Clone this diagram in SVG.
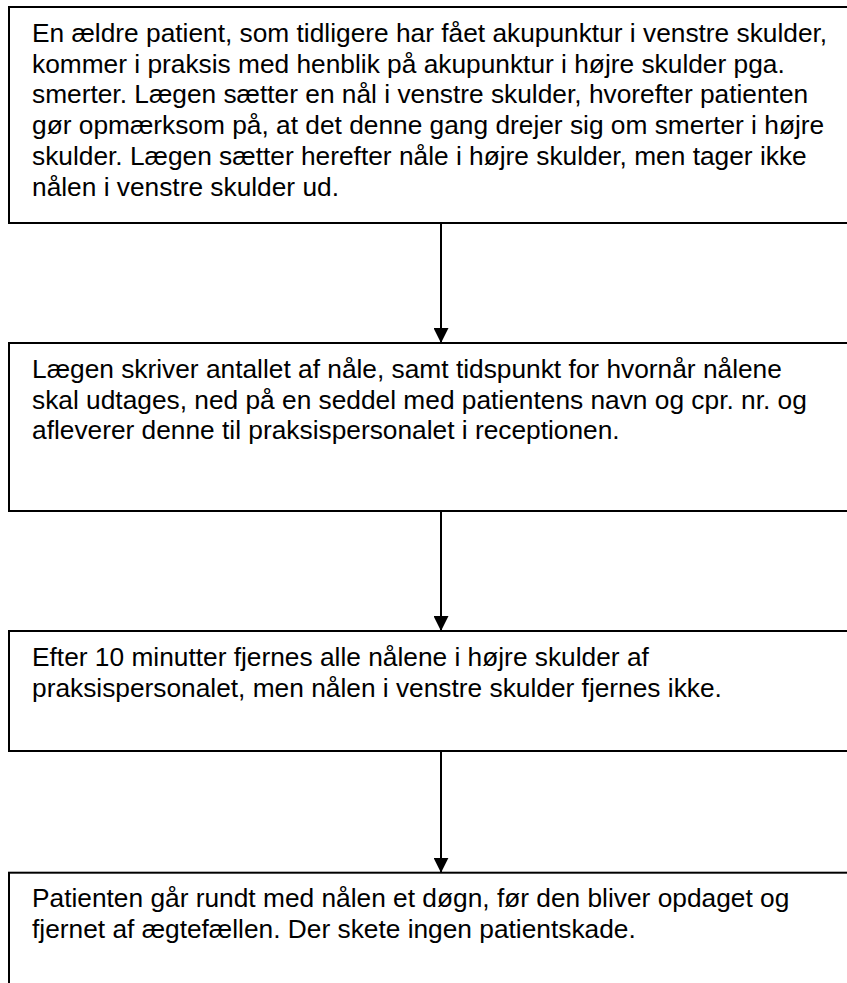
<svg xmlns="http://www.w3.org/2000/svg" width="847" height="983" viewBox="0 0 847 983">
<defs>
<style>
.box{fill:#fff;stroke:#000;stroke-width:2}
.t{font-family:"Liberation Sans",Arial,sans-serif;font-size:26.3px;fill:#000}
.c{stroke:#000;stroke-width:2;fill:none}
.ah{fill:#000}
</style>
<marker id="arr" markerWidth="15" markerHeight="15" refX="15" refY="7.5" orient="auto" markerUnits="userSpaceOnUse" viewBox="0 0 15 15">
<path d="M0,0 L15,7.5 L0,15 Z" class="ah"/>
</marker>
</defs>
<rect width="847" height="983" fill="#fff"/>
<g id="n1">
<rect class="box" x="9" y="7" width="860" height="216"/>
<text class="t" x="32">
<tspan x="32" y="41.7">En ældre patient, som tidligere har fået akupunktur i venstre skulder,</tspan>
<tspan x="32" y="72.5">kommer i praksis med henblik på akupunktur i højre skulder pga.</tspan>
<tspan x="32" y="103.3">smerter. Lægen sætter en nål i venstre skulder, hvorefter patienten</tspan>
<tspan x="32" y="134.1">gør opmærksom på, at det denne gang drejer sig om smerter i højre</tspan>
<tspan x="32" y="164.9">skulder. Lægen sætter herefter nåle i højre skulder, men tager ikke</tspan>
<tspan x="32" y="195.7">nålen i venstre skulder ud.</tspan>
</text>
</g>
<g id="n2">
<rect class="box" x="9" y="343" width="860" height="168"/>
<text class="t">
<tspan x="32" y="377.7">Lægen skriver antallet af nåle, samt tidspunkt for hvornår nålene</tspan>
<tspan x="32" y="408.5">skal udtages, ned på en seddel med patientens navn og cpr. nr. og</tspan>
<tspan x="32" y="439.3">afleverer denne til praksispersonalet i receptionen.</tspan>
</text>
</g>
<g id="n3">
<rect class="box" x="9" y="631" width="860" height="120"/>
<text class="t">
<tspan x="32" y="666.2">Efter 10 minutter fjernes alle nålene i højre skulder af</tspan>
<tspan x="32" y="697">praksispersonalet, men nålen i venstre skulder fjernes ikke.</tspan>
</text>
</g>
<g id="n4">
<rect class="box" x="9" y="872.7" width="860" height="200"/>
<text class="t">
<tspan x="32" y="907.4">Patienten går rundt med nålen et døgn, før den bliver opdaget og</tspan>
<tspan x="32" y="938.2">fjernet af ægtefællen. Der skete ingen patientskade.</tspan>
</text>
</g>
<g id="connectors">
<line class="c" x1="441" y1="223" x2="441" y2="343" marker-end="url(#arr)"/>
<line class="c" x1="441" y1="511" x2="441" y2="631" marker-end="url(#arr)"/>
<line class="c" x1="441" y1="751" x2="441" y2="872.7" marker-end="url(#arr)"/>
</g>
</svg>
